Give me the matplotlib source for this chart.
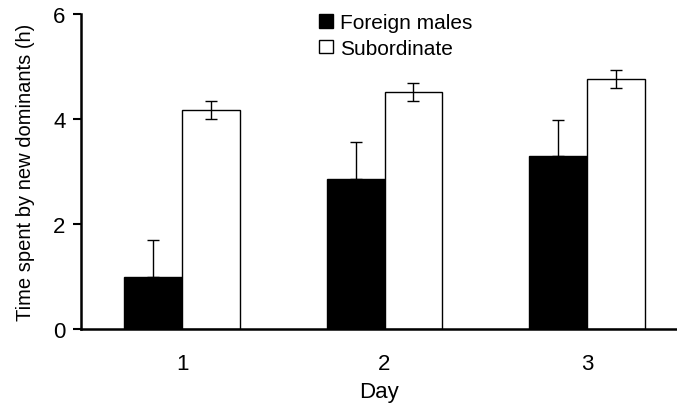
import numpy as np
import matplotlib
matplotlib.use("Agg")
import matplotlib.pyplot as plt

plt.rcParams['font.family'] = ['Liberation Sans', 'DejaVu Sans']

days = [1, 2, 3]
day_labels = ['1', '2', '3']
foreign_mean = [1.0, 2.86, 3.29]
foreign_err = [0.70, 0.70, 0.70]
subord_mean = [4.17, 4.51, 4.76]
subord_err = [0.17, 0.17, 0.17]

width = 0.286
x = np.array(days)

fig = plt.figure(figsize=(6.77, 4.06), dpi=100)
ax = fig.add_axes([0.1196, 0.187, 0.8804, 0.776])

ax.bar(x - width / 2, foreign_mean, width, color='black', edgecolor='black',
       linewidth=1, label='Foreign males', zorder=2)
ax.bar(x + width / 2, subord_mean, width, color='white', edgecolor='black',
       linewidth=1, label='Subordinate', zorder=2)

# foreign males: only the upper half of the error bar shows
ax.errorbar(x - width / 2, foreign_mean, yerr=[np.zeros(3), foreign_err],
            fmt='none', ecolor='black', elinewidth=1, capsize=4, capthick=1, zorder=1)
ax.errorbar(x + width / 2, subord_mean, yerr=subord_err,
            fmt='none', ecolor='black', elinewidth=1, capsize=4, capthick=1, zorder=3)

ax.set_xlim(0.5, 3.445)
ax.set_ylim(0, 6)
ax.set_yticks([0, 2, 4, 6])
ax.set_xticks(x)
ax.set_xticklabels(day_labels)
ax.tick_params(axis='x', length=0, pad=17, labelsize=16)
ax.tick_params(axis='y', length=6, width=1.5, direction='out', labelsize=16, pad=5)

for s in ['top', 'right']:
    ax.spines[s].set_visible(False)
ax.spines['left'].set_linewidth(1.8)
ax.spines['bottom'].set_linewidth(1.8)

ax.set_xlabel('Day', fontsize=16, labelpad=5)
ax.set_ylabel('Time spent by new dominants (h)', fontsize=14.5, labelpad=13)

ax.legend(loc='upper left', bbox_to_anchor=(0.40, 1.003), frameon=False,
          fontsize=15, handlelength=0.63, handleheight=0.63, handletextpad=0.38,
          labelspacing=0.32, borderpad=0, borderaxespad=0)

fig.savefig('out.png', dpi=100)
